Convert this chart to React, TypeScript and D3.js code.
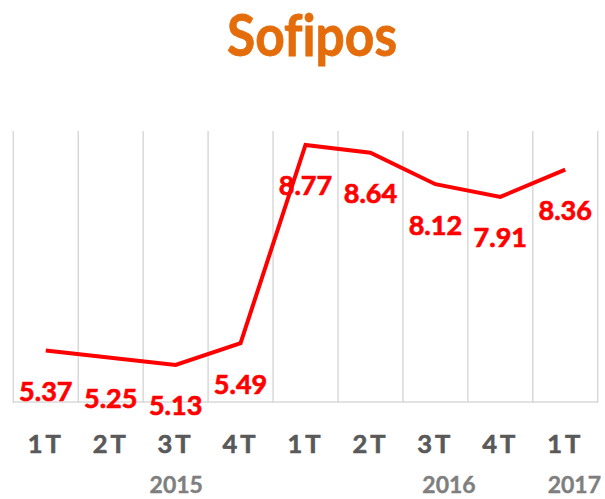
import React from "react";
import * as d3 from "d3";

const title = "Sofipos";
const categories = ["1T", "2T", "3T", "4T", "1T", "2T", "3T", "4T", "1T"];
const values = [5.37, 5.25, 5.13, 5.49, 8.77, 8.64, 8.12, 7.91, 8.36];
const years = ["2015", "2016", "2017"];
const yearAt = [2.01, 6.21, 8.14]; // position in category units

const W = 605;
const H = 499;
const FONT = "Lato, 'Open Sans', sans-serif";
const noLig = { fontVariantLigatures: "none", fontFeatureSettings: "'liga' 0" } as React.CSSProperties;

export default function App() {
  const left = 13.3;
  const right = 597.7;
  const x = d3
    .scaleBand<number>()
    .domain(d3.range(categories.length))
    .range([left, right])
    .paddingInner(0)
    .paddingOuter(0);
  const bw = x.bandwidth();
  const cx = (i: number) => (x(i) as number) + bw / 2;
  const xf = (f: number) => left + (f + 0.5) * bw;
  const y = d3.scaleLinear().domain([4.5, 9]).range([403, 131]);

  const line = d3
    .line<number>()
    .x((_, i) => cx(i))
    .y((d) => y(d));

  const boundaries = d3.range(categories.length + 1).map((i) => left + i * bw);

  return (
    <svg
      width={W}
      height={H}
      style={{ position: "absolute", left: 0, top: 0, background: "#fff" }}
    >
      <text
        x={312}
        y={56}
        textAnchor="middle"
        fontFamily={FONT}
        fontWeight={700}
        fontSize={58}
        fill="#E46C0A"
        stroke="#E46C0A"
        strokeWidth={0.8}
        textLength={170}
        lengthAdjust="spacingAndGlyphs"
        style={noLig}
      >
        {title}
      </text>
      {boundaries.map((b, i) => (
        <line
          key={i}
          x1={b}
          x2={b}
          y1={y(9)}
          y2={y(4.5)}
          stroke="#d9d9d9"
          strokeWidth={1.5}
        />
      ))}
      <line
        x1={left}
        x2={right}
        y1={y(4.5) - 1}
        y2={y(4.5) - 1}
        stroke="#d9d9d9"
        strokeWidth={1.5}
      />
      <path
        d={line(values) || ""}
        fill="none"
        stroke="#FF0000"
        strokeWidth={4}
        strokeLinejoin="miter"
      />
      {values.map((v, i) => (
        <text
          key={i}
          x={cx(i)}
          y={y(v) + 50.5}
          textAnchor="middle"
          fontFamily={FONT}
          fontWeight={700}
          fontSize={27}
          fill="#FF0000"
          stroke="#FF0000"
          strokeWidth={0.7}
        >
          {v.toFixed(2)}
        </text>
      ))}
      {categories.map((c, i) => (
        <text
          key={i}
          x={cx(i)}
          y={453.3}
          textAnchor="middle"
          fontFamily={FONT}
          fontWeight={700}
          fontSize={25.5}
          fill="#595959"
          stroke="#595959"
          strokeWidth={0.6}
          letterSpacing={3}
        >
          {c}
        </text>
      ))}
      {years.map((yr, i) => (
        <text
          key={i}
          x={xf(yearAt[i])}
          y={493.3}
          textAnchor="middle"
          fontFamily={FONT}
          fontWeight={700}
          fontSize={23}
          fill="#7f7f7f"
          stroke="#7f7f7f"
          strokeWidth={0.4}
        >
          {yr}
        </text>
      ))}
    </svg>
  );
}
